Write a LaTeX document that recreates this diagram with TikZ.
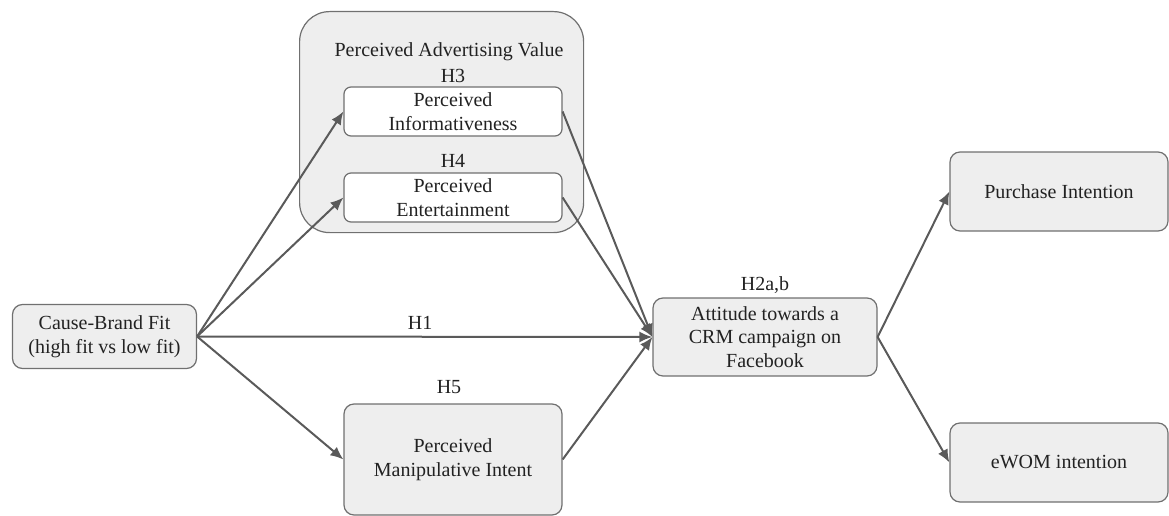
\documentclass[tikz,border=0pt]{standalone}
\usepackage{fontspec}
\setmainfont{Liberation Serif}
\usetikzlibrary{arrows.meta}
\definecolor{boxfill}{HTML}{EEEEEE}
\definecolor{boxline}{HTML}{707070}
\definecolor{arrowcol}{HTML}{5A5A5A}
\definecolor{txt}{HTML}{222222}
\begin{document}
\begin{tikzpicture}[x=1pt,y=-1pt,
  box/.style={draw=boxline,line width=1.2pt,fill=boxfill,rounded corners=10pt,align=center,text=txt,font=\fontsize{20}{23.5}\selectfont,inner sep=0pt},
  wbox/.style={box,fill=white,rounded corners=7pt},
  group/.style={draw=boxline,line width=1.2pt,fill=boxfill,rounded corners=30pt},
  lbl/.style={text=txt,font=\fontsize{20}{23.5}\selectfont,inner sep=0pt},
  arr/.style={draw=arrowcol,line width=2pt,-{Latex[length=13pt,width=11pt]}}]
\useasboundingbox (0,0) rectangle (1169,516);
% group
\node[group,minimum width=284pt,minimum height=221pt,anchor=north west] (grp) at (299,11) {};
\node[lbl] (pav) at (449,52) {Perceived Advertising Value};
\node[lbl] (h3) at (453,76) {H3};
\node[wbox,minimum width=218pt,minimum height=49pt] (inf) at (453,111.5) {Perceived\\Informativeness};
\node[lbl] (h4) at (453,161) {H4};
\node[wbox,minimum width=218pt,minimum height=49pt] (ent) at (453,197.5) {Perceived\\Entertainment};
% others
\node[box,minimum width=184pt,minimum height=64pt] (cbf) at (104.5,336.5) {Cause-Brand Fit\\(high fit vs low fit)};
\node[box,minimum width=224pt,minimum height=78pt] (att) at (765,337) {Attitude towards a\\CRM campaign on\\Facebook};
\node[lbl] (h2) at (765,285) {H2a,b};
\node[box,minimum width=218pt,minimum height=111pt] (man) at (453,459.5) {Perceived\\Manipulative Intent};
\node[lbl] (h5) at (449,387) {H5};
\node[box,minimum width=218pt,minimum height=79pt] (pur) at (1059,191.5) {Purchase Intention};
\node[box,minimum width=218pt,minimum height=79pt] (ewom) at (1059,462.5) {eWOM intention};
% arrows
\draw[arr] (cbf.east) -- (inf.west);
\draw[arr] (cbf.east) -- (ent.west);
\draw[arr] (cbf.east) -- (man.west);
\draw[arr] (cbf.east) -- node[lbl,pos=0.49,above=6pt] (h1) {H1} (att.west);
\draw[arr] (inf.east) -- (att.west);
\draw[arr] (ent.east) -- (att.west);
\draw[arr] (man.east) -- (att.west);
\draw[arr] (att.east) -- (pur.west);
\draw[arr] (att.east) -- (ewom.west);
\end{tikzpicture}
\end{document}
